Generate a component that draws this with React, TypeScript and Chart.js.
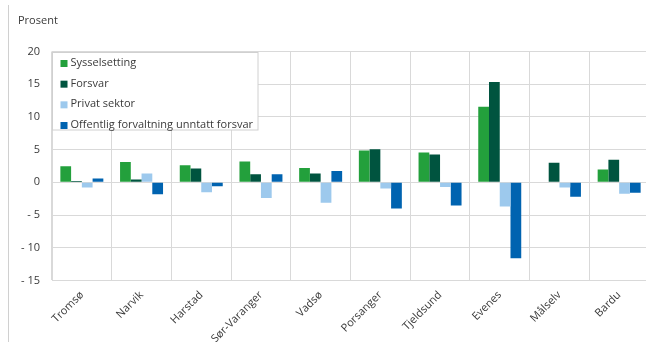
import React, { useEffect, useRef } from "react";
import { Chart, registerables } from "chart.js";

Chart.register(...registerables);

const categories = [
  "Tromsø",
  "Narvik",
  "Harstad",
  "Sør-Varanger",
  "Vadsø",
  "Porsanger",
  "Tjeldsund",
  "Evenes",
  "Målselv",
  "Bardu",
];

const sysselsetting = [2.45, 3.1, 2.6, 3.2, 2.2, 4.85, 4.55, 11.55, 0.1, 1.95];
const forsvar = [0.2, 0.45, 2.1, 1.25, 1.35, 5.05, 4.25, 15.35, 3.0, 3.45];
const privatSektor = [-0.8, 1.35, -1.5, -2.4, -3.1, -0.95, -0.7, -3.7, -0.8, -1.75];
const offentlig = [0.6, -1.8, -0.6, 1.25, 1.75, -4.0, -3.55, -11.6, -2.2, -1.6];

const seriesNames = [
  "Sysselsetting",
  "Forsvar",
  "Privat sektor",
  "Offentlig forvaltning unntatt forsvar",
];
const seriesColors = ["#23a03c", "#00543f", "#9dc9ed", "#0063b0"];

const yMin = -15;
const yMax = 20;
const yStep = 5;

const FONT = "'Open Sans', 'Noto Sans', sans-serif";
const TEXT = "#3a3a3a";
const GRID = "#d9d9d9";

// Boxed legend in the upper-left corner of the plot, plus the unit label above the axis
const overlayPlugin = {
  id: "overlay",
  afterDraw(chart: any) {
    const { ctx, chartArea } = chart;
    ctx.save();
    ctx.font = `11px ${FONT}`;
    ctx.fillStyle = TEXT;
    ctx.textBaseline = "middle";
    ctx.textAlign = "left";
    ctx.fillText("Prosent", 18, 21);

    const bx = chartArea.left + 0.5;
    const by = chartArea.top + 1;
    const bw = 205.5;
    const bh = 77.5;
    ctx.fillStyle = "#ffffff";
    ctx.fillRect(bx, by, bw, bh);
    ctx.strokeStyle = "#d0d0d0";
    ctx.lineWidth = 1;
    ctx.strokeRect(bx, by, bw, bh);

    chart.data.datasets.forEach((ds: any, i: number) => {
      const cy = by + 10.5 + i * 20.67;
      ctx.fillStyle = ds.backgroundColor;
      ctx.fillRect(bx + 8, cy - 3, 7, 7);
      ctx.fillStyle = TEXT;
      ctx.fillText(ds.label, bx + 18, cy);
    });
    ctx.restore();
  },
};

export default function App() {
  const ref = useRef<HTMLCanvasElement | null>(null);

  useEffect(() => {
    if (!ref.current) return;
    const values = [sysselsetting, forsvar, privatSektor, offentlig];
    const chart = new Chart(ref.current, {
      type: "bar",
      data: {
        labels: categories,
        datasets: values.map((d, i) => ({
          label: seriesNames[i],
          data: d,
          backgroundColor: seriesColors[i],
          borderWidth: 0,
          categoryPercentage: 0.72,
          barPercentage: 1.0,
        })),
      },
      options: {
        animation: false,
        responsive: false,
        devicePixelRatio: 1,
        layout: { padding: { top: 51.5, left: 0, right: 11, bottom: 0 } },
        plugins: {
          legend: { display: false },
          tooltip: { enabled: false },
          title: { display: false },
        },
        scales: {
          x: {
            grid: { color: GRID, lineWidth: 1, offset: true, drawTicks: false },
            border: { color: GRID },
            ticks: {
              minRotation: 45,
              maxRotation: 45,
              padding: 8,
              color: TEXT,
              font: { family: FONT, size: 11 },
              autoSkip: false,
            },
            afterFit: (axis: any) => {
              axis.height = 61.5;
            },
          },
          y: {
            min: yMin,
            max: yMax,
            grid: { color: GRID, lineWidth: 1, drawTicks: false },
            border: { color: GRID },
            ticks: {
              stepSize: yStep,
              padding: 12,
              color: TEXT,
              font: { family: FONT, size: 11 },
              callback: (v: any) => (Number(v) < 0 ? "- " + Math.abs(Number(v)) : String(v)),
            },
            afterFit: (axis: any) => {
              axis.width = 52;
            },
          },
        },
      },
      plugins: [overlayPlugin],
    });
    return () => chart.destroy();
  }, []);

  return (
    <div
      style={{
        position: "fixed",
        left: 0,
        top: 0,
        width: 646,
        height: 342,
        overflow: "hidden",
        background: "#ffffff",
      }}
    >
      <canvas ref={ref} width={660} height={342} style={{ display: "block" }} />
      <div
        style={{
          position: "absolute",
          left: 8,
          top: 5,
          width: 1,
          height: 337,
          background: "#d0d0d0",
        }}
      />
    </div>
  );
}
